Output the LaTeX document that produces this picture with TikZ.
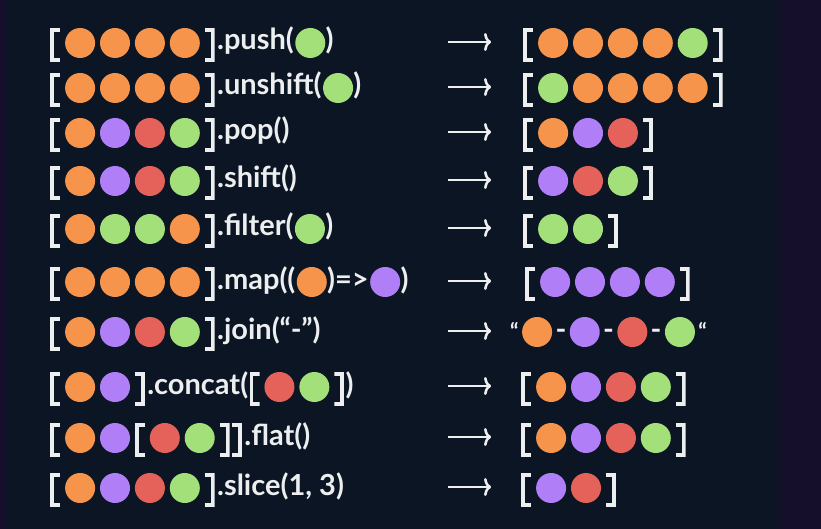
\documentclass[tikz,border=0pt]{standalone}
\usepackage{fontspec}
\setmainfont{Lato}
\usetikzlibrary{positioning,arrows.meta}

\definecolor{bgnavy}{HTML}{0C1523}
\definecolor{bgedge}{HTML}{160F2C}
\definecolor{ink}{HTML}{ECEEF0}
\definecolor{corange}{HTML}{F5944A}
\definecolor{cgreen}{HTML}{A3E07A}
\definecolor{cpurple}{HTML}{B07EF6}
\definecolor{cred}{HTML}{E4625A}

\tikzset{
  ball/.style={circle, inner sep=0pt, minimum size=30pt, fill=#1},
  brk/.style={inner sep=0pt, minimum width=10pt, minimum height=38pt},
  obr/.style={brk, path picture={\draw[ink, line width=3.8pt]
      ([shift={(10pt,-6pt)}]path picture bounding box.north west) -- ([shift={(2pt,-6pt)}]path picture bounding box.north west)
      -- ([shift={(2pt,2pt)}]path picture bounding box.south west) -- ([shift={(10pt,2pt)}]path picture bounding box.south west);}},
  cbr/.style={brk, path picture={\draw[ink, line width=3.8pt]
      ([shift={(-10pt,-6pt)}]path picture bounding box.north east) -- ([shift={(-2pt,-6pt)}]path picture bounding box.north east)
      -- ([shift={(-2pt,2pt)}]path picture bounding box.south east) -- ([shift={(-10pt,2pt)}]path picture bounding box.south east);}},
  txt/.style={text=ink, inner sep=0pt, text height=18pt, text depth=4pt, font=\bfseries\fontsize{29}{29}\selectfont},
  qt/.style={txt, font=\bfseries\fontsize{22}{22}\selectfont},
  arr/.style={draw=ink, line width=2.6pt, -{To[length=7pt,width=18pt]}}
}

% a row of balls to the right of #1, named #2<i>
\newcommand\balls[3]{%
  \foreach \col [count=\i] in {#3}{%
    \pgfmathtruncatemacro\j{\i-1}%
    \ifnum\i=1 \def\prev{#1}\else\def\prev{#2\j}\fi
    \node[ball=\col, right=of \prev] (#2\i) {};
    \xdef\lastball{#2\i}}}
% [ balls ] with its left edge at (#2,#3)
\newcommand\arrlist[4]{%
  \node[obr, anchor=west] (#1-o) at (#2,#3) {};
  \balls{#1-o}{#1-}{#4}
  \node[cbr, right=of \lastball] (#1-c) {};}
% arrow and result array of row #1
\newcommand\result[4]{%
  \coordinate (a#1) at (448,#2-1);
  \coordinate (b#1) at (491,#2-1);
  \draw[arr] (a#1) -- (b#1);
  \arrlist{r#1}{#3}{#2}{#4}}

\begin{document}
\begin{tikzpicture}[x=1pt, y=-1pt, node distance=4.5pt]
  \useasboundingbox (0,0) rectangle (821,529);
  \fill[bgnavy] (0,0) rectangle (821,529);
  \fill[bgedge] (0,0) rectangle (6,529);
  \shade[left color=bgnavy, right color=bgedge] (772,0) rectangle (786,529);
  \fill[bgedge] (786,0) rectangle (821,529);

  % push
  \arrlist{l1}{50}{43}{corange,corange,corange,corange}
  \node[txt, right=2pt of l1-c] (l1-t) {.push(};
  \node[ball=cgreen, right=1pt of l1-t] (l1-x) {};
  \node[txt, right=0pt of l1-x] (l1-e) {)};
  \result{1}{43}{523}{corange,corange,corange,corange,cgreen}

  % unshift
  \arrlist{l2}{50}{88}{corange,corange,corange,corange}
  \node[txt, right=2pt of l2-c] (l2-t) {.unshift(};
  \node[ball=cgreen, right=1pt of l2-t] (l2-x) {};
  \node[txt, right=0pt of l2-x] (l2-e) {)};
  \result{2}{88}{523}{cgreen,corange,corange,corange,corange}

  % pop
  \arrlist{l3}{50}{133}{corange,cpurple,cred,cgreen}
  \node[txt, right=2pt of l3-c] (l3-t) {.pop()};
  \result{3}{133}{523}{corange,cpurple,cred}

  % shift
  \arrlist{l4}{50}{181}{corange,cpurple,cred,cgreen}
  \node[txt, right=2pt of l4-c] (l4-t) {.shift()};
  \result{4}{181}{523}{cpurple,cred,cgreen}

  % filter
  \arrlist{l5}{50}{229}{corange,cgreen,cgreen,corange}
  \node[txt, right=2pt of l5-c] (l5-t) {.filter(};
  \node[ball=cgreen, right=1pt of l5-t] (l5-x) {};
  \node[txt, right=0pt of l5-x] (l5-e) {)};
  \result{5}{229}{523}{cgreen,cgreen}

  % map
  \arrlist{l6}{50}{282}{corange,corange,corange,corange}
  \node[txt, right=2pt of l6-c] (l6-t) {.map((};
  \node[ball=corange, right=1pt of l6-t] (l6-x) {};
  \node[txt, right=0pt of l6-x] (l6-u) {)=>};
  \node[ball=cpurple, right=1pt of l6-u] (l6-y) {};
  \node[txt, right=0pt of l6-y] (l6-e) {)};
  \result{6}{282}{525}{cpurple,cpurple,cpurple,cpurple}

  % join
  \arrlist{l7}{50}{332}{corange,cpurple,cred,cgreen}
  \node[txt, right=2pt of l7-c] (l7-t) {.join(“-”)};
  \coordinate (a7) at (448,331);
  \coordinate (b7) at (491,331);
  \draw[arr] (a7) -- (b7);
  \node[qt, anchor=west] (r7-q) at (510,332) {“};
  \node[ball=corange, right=3pt of r7-q] (r7-1) {};
  \foreach \col [count=\i from 2] in {cpurple,cred,cgreen}{
    \pgfmathtruncatemacro\j{\i-1}
    \node[txt, right=3pt of r7-\j] (r7-d\i) {-};
    \node[ball=\col, right=3pt of r7-d\i] (r7-\i) {};}
  \node[qt, right=3pt of r7-4] (r7-e) {“};

  % concat
  \arrlist{l8}{50}{387}{corange,cpurple}
  \node[txt, right=2pt of l8-c] (l8-t) {.concat(};
  \node[obr, right=1pt of l8-t] (l8-o2) {};
  \balls{l8-o2}{l8-i}{cred,cgreen}
  \node[cbr, right=of \lastball] (l8-c2) {};
  \node[txt, right=1pt of l8-c2] (l8-e) {)};
  \result{8}{387}{521}{corange,cpurple,cred,cgreen}

  % flat
  \node[obr, anchor=west] (l9-o) at (50,438) {};
  \balls{l9-o}{l9-}{corange,cpurple}
  \node[obr, right=of l9-2] (l9-o2) {};
  \balls{l9-o2}{l9-i}{cred,cgreen}
  \node[cbr, right=of \lastball] (l9-c2) {};
  \node[cbr, right=2pt of l9-c2] (l9-c) {};
  \node[txt, right=2pt of l9-c] (l9-t) {.flat()};
  \result{9}{438}{521}{corange,cpurple,cred,cgreen}

  % slice
  \arrlist{l10}{50}{488}{corange,cpurple,cred,cgreen}
  \node[txt, right=2pt of l10-c] (l10-t) {.slice(1, 3)};
  \result{10}{488}{521}{cpurple,cred}
\end{tikzpicture}
\end{document}
